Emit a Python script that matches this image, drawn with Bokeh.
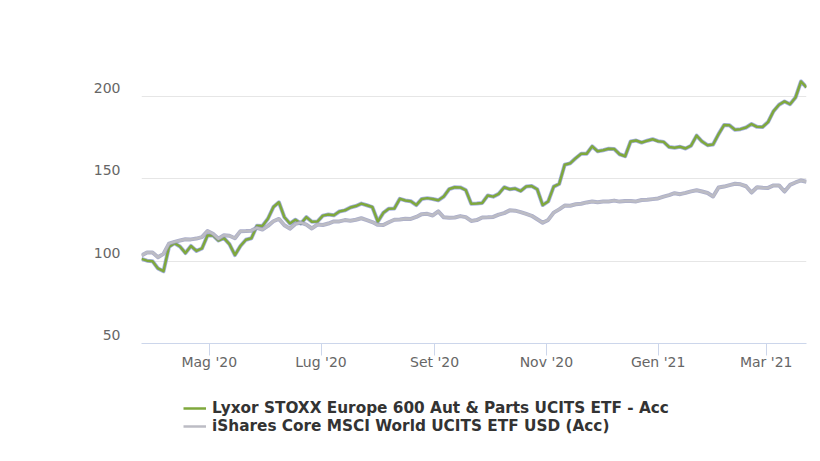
import pandas as pd
from bokeh.plotting import figure
from bokeh.layouts import column
from bokeh.models import Range1d, FixedTicker, Legend, LegendItem, LinearAxis
from bokeh.embed import file_html
from bokeh.resources import INLINE

# ---------------- data ----------------
start_date = "2020-03-25"
step_days = 3

series_names = [
    "Lyxor STOXX Europe 600 Aut & Parts UCITS ETF - Acc",
    "iShares Core MSCI World UCITS ETF USD (Acc)",
]

lyxor = [
    101.3, 100.2, 99.9, 95.5, 93.8, 108.5, 110.8, 108.8, 104.8, 109.1,
    106.1, 107.6, 115.5, 115.6, 112.4, 113.9, 110.2, 103.6, 109.1, 112.9,
    113.8, 121.3, 121.2, 125.6, 132.7, 135.6, 126.5, 122.7, 125.0, 122.7,
    126.6, 123.8, 123.9, 127.5, 128.2, 127.7, 130.0, 130.7, 132.4, 133.3,
    134.8, 133.8, 132.7, 123.9, 129.2, 131.7, 131.8, 137.7, 136.7, 136.2,
    133.9, 137.6, 138.1, 137.6, 136.8, 139.1, 143.6, 144.7, 144.6, 143.0,
    134.7, 134.9, 135.2, 139.7, 139.0, 140.7, 144.7, 143.5, 143.9, 142.4,
    145.2, 145.4, 143.5, 133.9, 136.1, 145.1, 146.7, 158.3, 159.2, 162.3,
    165.0, 165.0, 169.5, 166.5, 167.1, 168.0, 167.9, 164.7, 163.5, 172.4,
    173.0, 171.8, 172.9, 173.8, 172.6, 172.2, 169.1, 168.6, 169.2, 168.2,
    169.9, 176.0, 172.4, 170.2, 170.6, 176.9, 182.4, 182.2, 179.5, 179.9,
    180.9, 183.0, 181.3, 181.2, 184.2, 190.8, 194.7, 196.7, 195.0, 199.1,
    208.8, 205.2,
]

ishares = [
    103.3, 105.2, 105.2, 102.3, 104.3, 110.5, 111.6, 112.4, 113.2, 113.1,
    113.6, 114.5, 118.2, 116.5, 113.5, 115.6, 115.3, 113.8, 118.1, 118.2,
    118.4, 120.1, 119.1, 121.3, 124.1, 125.5, 121.7, 119.6, 122.5, 123.3,
    122.0, 119.7, 122.1, 121.8, 122.7, 124.0, 124.0, 124.8, 124.4, 125.0,
    125.9, 124.8, 123.6, 121.9, 121.8, 123.5, 125.0, 125.2, 125.6, 125.5,
    126.7, 128.4, 128.6, 127.6, 130.1, 126.5, 126.2, 126.4, 127.2, 126.6,
    124.3, 124.8, 126.4, 126.5, 126.7, 128.1, 129.0, 130.7, 130.5, 129.6,
    128.5, 127.4, 125.3, 123.2, 124.9, 129.3, 131.3, 133.6, 133.5, 134.4,
    134.7, 135.5, 136.1, 135.6, 136.0, 136.1, 136.6, 136.0, 136.4, 136.3,
    136.1, 137.0, 137.1, 137.5, 137.9, 139.0, 139.9, 141.1, 140.5, 141.3,
    142.2, 142.9, 142.1, 141.2, 139.1, 144.5, 145.1, 146.0, 146.8, 146.5,
    145.3, 141.5, 144.7, 144.4, 144.3, 145.8, 145.8, 142.1, 146.1, 147.6,
    148.8, 148.0,
]

x_tick_dates = ["2020-05-01", "2020-07-01", "2020-09-01", "2020-11-01", "2021-01-01", "2021-03-01"]
x_tick_labels = ["Mag '20", "Lug '20", "Set '20", "Nov '20", "Gen '21", "Mar '21"]
y_grid_ticks = [50, 100, 150, 200, 250]
y_label_ticks = [50, 100, 150, 200]

series_colors = ["#7fa83c", "#bcbcc4"]
shadow_colors = ["#8494d4", "#8f93b8"]

# ---------------- chart ----------------
dates = pd.date_range(start_date, periods=len(lyxor), freq=f"{step_days}D")


def to_ms(d):
    return float(pd.Timestamp(d).value // 10**6)


x0 = to_ms(dates[0])
x1 = to_ms(dates[-1])
y_lo, y_hi = 50, 250
# Highcharts draws the y labels slightly above their grid lines:
# a companion range shifted by ~8px worth of units places them there.
label_shift = 4.9

W = 816
p = figure(
    width=W, height=378,
    x_axis_type="datetime",
    output_backend="svg",
    toolbar_location=None,
    min_border_left=141, min_border_right=10,
    min_border_top=13, min_border_bottom=35,
    x_range=Range1d(x0, x1),
    y_range=Range1d(y_lo, y_hi),
)
p.extra_y_ranges = {"labels": Range1d(y_lo - label_shift, y_hi - label_shift)}
p.outline_line_color = None
p.background_fill_color = "white"
p.border_fill_color = "white"

# grid
p.xgrid.visible = False
p.yaxis.visible = False
p.ygrid.ticker = FixedTicker(ticks=y_grid_ticks)
p.ygrid.grid_line_color = "#e6e6e6"
p.ygrid.grid_line_width = 1

# y labels axis
ya = LinearAxis(y_range_name="labels", ticker=FixedTicker(ticks=y_label_ticks))
ya.axis_line_color = None
ya.major_tick_line_color = None
ya.minor_tick_line_color = None
ya.major_tick_out = 0
ya.major_tick_in = 0
ya.major_label_standoff = 21
ya.major_label_text_font = "DejaVu Sans"
ya.major_label_text_font_size = "14px"
ya.major_label_text_color = "#666666"
p.add_layout(ya, "left")

# x axis
tick_ms = [to_ms(d) for d in x_tick_dates]
xa = p.xaxis[0]
xa.ticker = FixedTicker(ticks=tick_ms)
xa.major_label_overrides = {t: lab for t, lab in zip(tick_ms, x_tick_labels)}
xa.axis_line_color = "#ccd6eb"
xa.major_tick_line_color = "#ccd6eb"
xa.major_tick_out = 12
xa.major_tick_in = 0
xa.minor_tick_line_color = None
xa.major_label_standoff = -2
xa.major_label_text_font = "DejaVu Sans"
xa.major_label_text_font_size = "14px"
xa.major_label_text_color = "#666666"

# series
for vals, col, sh in zip([lyxor, ishares], series_colors, shadow_colors):
    p.line(dates, vals, line_color=sh, line_width=4, line_alpha=0.75, line_join="round")
    p.line(dates, vals, line_color=col, line_width=2.5, line_join="round")

# ---------------- legend (separate strip below; its frame aligns with the chart's) ----------------
leg = figure(
    width=W, height=70,
    output_backend="svg",
    toolbar_location=None,
    x_axis_location=None, y_axis_location=None,
    min_border_left=141, min_border_right=10,
    min_border_top=0, min_border_bottom=0,
    x_range=Range1d(0, 1), y_range=Range1d(0, 1),
)
leg.outline_line_color = None
leg.xgrid.visible = False
leg.ygrid.visible = False
items = []
for name, col in zip(series_names, series_colors):
    r = leg.line([-5, -4], [-5, -4], line_color=col, line_width=2.5)
    items.append(LegendItem(label=name, renderers=[r]))

legend = Legend(
    items=items,
    location=(42, 13),
    orientation="vertical",
    label_text_font="DejaVu Sans",
    label_text_font_style="bold",
    label_text_font_size="15.3px",
    label_text_color="#333333",
    glyph_width=23, glyph_height=18, label_height=18,
    label_standoff=6, spacing=0, padding=0, margin=0,
    border_line_color=None, background_fill_alpha=0,
)
leg.add_layout(legend, "center")

open("out.html", "w").write(file_html(column(p, leg, spacing=0), INLINE))
